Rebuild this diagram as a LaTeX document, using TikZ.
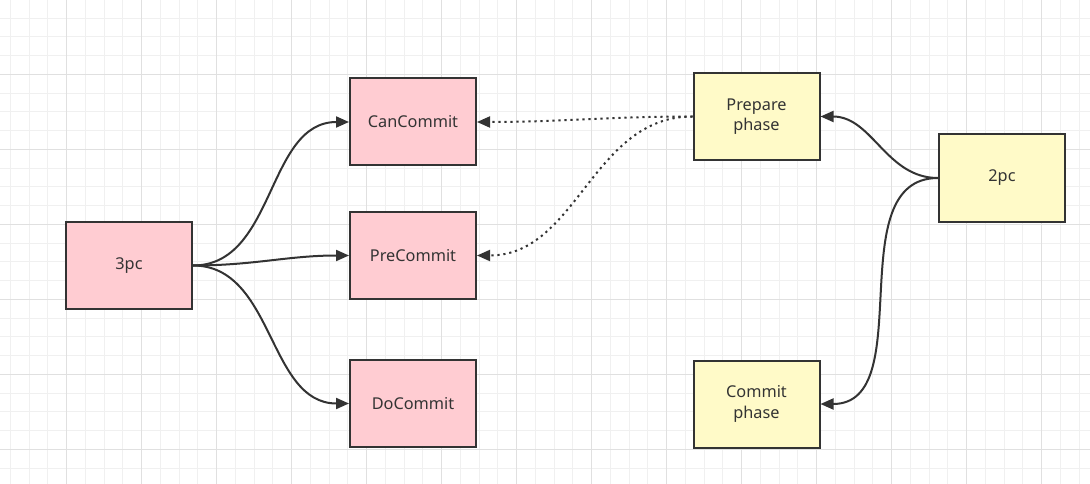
\documentclass[tikz,border=0pt]{standalone}
\usepackage{fontspec}
\setmainfont{Noto Sans}
\usetikzlibrary{arrows.meta}
\definecolor{pinkfill}{HTML}{FFCCD2}
\definecolor{yelfill}{HTML}{FFFAC8}
\definecolor{edgecol}{HTML}{333333}
\definecolor{gridminor}{HTML}{F0F0F0}
\definecolor{gridmajor}{HTML}{E0E0E0}
\tikzset{
  boxbase/.style={draw=edgecol, line width=2pt, minimum width=126pt, minimum height=87pt,
    inner sep=0pt, text=edgecol, font=\fontsize{16.3}{20.5}\selectfont, align=center},
  pinkbox/.style={boxbase, fill=pinkfill},
  yelbox/.style={boxbase, fill=yelfill},
  conn/.style={draw=edgecol, line width=2pt, -{Triangle[length=13pt,width=11pt]}},
  dotconn/.style={conn, dash pattern=on 2.2pt off 3.8pt},
}
\begin{document}
\begin{tikzpicture}[x=1pt,y=-1pt]
\useasboundingbox (0,0) rectangle (1090,484);
\fill[white] (0,0) rectangle (1090,484);
% grid
\foreach \i in {0,...,58} {
  \pgfmathsetmacro{\xx}{-8.3+18.75*\i}
  \draw[gridminor, line width=1pt] (\xx,0) -- (\xx,484);
}
\foreach \j in {0,...,26} {
  \pgfmathsetmacro{\yy}{-0.7+18.75*\j}
  \draw[gridminor, line width=1pt] (0,\yy) -- (1090,\yy);
}
\foreach \i in {0,...,15} {
  \pgfmathsetmacro{\xx}{-8.3+75*\i}
  \draw[gridmajor, line width=1pt] (\xx,0) -- (\xx,484);
}
\foreach \j in {0,...,7} {
  \pgfmathsetmacro{\yy}{-0.7+75*\j}
  \draw[gridmajor, line width=1pt] (0,\yy) -- (1090,\yy);
}
% nodes
\node[pinkbox] (p3) at (129,265.5) {3pc};
\node[pinkbox] (can) at (413,122) {CanCommit};
\node[pinkbox] (pre) at (413,255.5) {PreCommit};
\node[pinkbox] (do) at (413,403.5) {DoCommit};
\node[yelbox] (prep) at (756.5,116.5) {Prepare\\phase};
\node[yelbox] (p2) at (1002,178) {2pc};
\node[yelbox] (comm) at (756.5,404) {Commit\\phase};
% connectors
\draw[conn] (p3.east) to[out=0,in=180] (can.west);
\draw[conn] (p3.east) to[out=0,in=180] (pre.west);
\draw[conn] (p3.east) to[out=0,in=180] (do.west);
\draw[dotconn] (prep.west) to[out=180,in=0] (can.east);
\draw[dotconn] (prep.west) to[out=180,in=0] (pre.east);
\draw[conn] (p2.west) to[out=180,in=0] (prep.east);
\draw[conn] (p2.west) to[out=180,in=0] (comm.east);
\end{tikzpicture}
\end{document}
